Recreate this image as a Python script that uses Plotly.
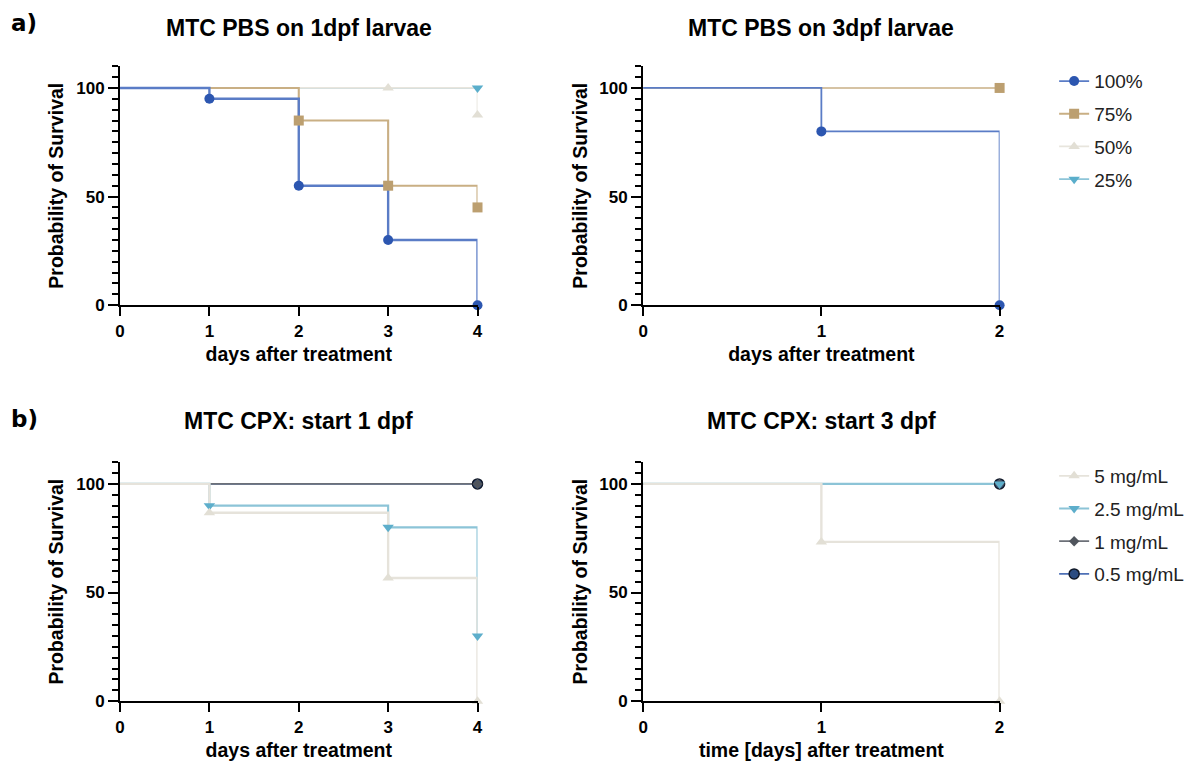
import plotly.graph_objects as go

# ---------------- data ----------------
# a) MTC PBS on 1dpf larvae
a1_t_100 = [0, 1, 2, 3, 4]
a1_s_100 = [100, 95, 55, 30, 0]
a1_t_75 = [0, 2, 3, 4]
a1_s_75 = [100, 85, 55, 45]
a1_t_50 = [0, 3, 4]
a1_s_50 = [100, 100, 87.5]
a1_t_25 = [0, 4]
a1_s_25 = [100, 100]

# a) MTC PBS on 3dpf larvae
a2_t_100 = [0, 1, 2]
a2_s_100 = [100, 80, 0]
a2_t_75 = [0, 2]
a2_s_75 = [100, 100]

# b) MTC CPX: start 1 dpf
b1_t_5 = [0, 1, 3, 4]
b1_s_5 = [100, 86.7, 56.7, 0]
b1_t_25 = [0, 1, 3, 4]
b1_s_25 = [100, 90, 80, 30]
b1_t_1 = [0, 4]
b1_s_1 = [100, 100]
b1_t_05 = [0, 4]
b1_s_05 = [100, 100]

# b) MTC CPX: start 3 dpf
b2_t_5 = [0, 1, 2]
b2_s_5 = [100, 73.3, 0]
b2_t_25 = [0, 2]
b2_s_25 = [100, 100]
b2_t_1 = [0, 2]
b2_s_1 = [100, 100]
b2_t_05 = [0, 2]
b2_s_05 = [100, 100]

labels_a = ["100%", "75%", "50%", "25%"]
labels_b = ["5 mg/mL", "2.5 mg/mL", "1 mg/mL", "0.5 mg/mL"]

titles = ["MTC PBS on 1dpf larvae", "MTC PBS on 3dpf larvae",
          "MTC CPX: start 1 dpf", "MTC CPX: start 3 dpf"]
xtitles = ["days after treatment", "days after treatment",
           "days after treatment", "time [days] after treatment"]
ytitle = "Probability of Survival"

# ---------------- styles ----------------
FONT = "Liberation Sans, Arial, sans-serif"
sty = {
    "100%": dict(m="#2C56B0", l="#5A7CC6", sym="circle", ol="#2C56B0"),
    "75%": dict(m="#BC9F70", l="#C9AF84", sym="square", ol="#BC9F70"),
    "50%": dict(m="#E2DFD5", l="#E8E5DD", sym="triangle-up", ol="#E2DFD5"),
    "25%": dict(m="#5AAECB", l="#8DC5D8", sym="triangle-down", ol="#5AAECB"),
    "5 mg/mL": dict(m="#E2DFD5", l="#E6E3DB", sym="triangle-up", ol="#E2DFD5"),
    "2.5 mg/mL": dict(m="#5DAECB", l="#8CC4D7", sym="triangle-down", ol="#5DAECB"),
    "1 mg/mL": dict(m="#50555D", l="#6C7078", sym="diamond", ol="#50555D"),
    "0.5 mg/mL": dict(m="#2B4C82", l="#4E70B6", sym="circle", ol="#101828"),
}
msize = {"circle": 10, "square": 10, "triangle-up": 10, "triangle-down": 10, "diamond": 8}

fig = go.Figure()

panels = [
    ("x", "y", [("25%", a1_t_25, a1_s_25), ("50%", a1_t_50, a1_s_50),
                ("75%", a1_t_75, a1_s_75), ("100%", a1_t_100, a1_s_100)]),
    ("x2", "y2", [("75%", a2_t_75, a2_s_75), ("100%", a2_t_100, a2_s_100)]),
    ("x3", "y3", [("0.5 mg/mL", b1_t_05, b1_s_05), ("1 mg/mL", b1_t_1, b1_s_1),
                  ("2.5 mg/mL", b1_t_25, b1_s_25), ("5 mg/mL", b1_t_5, b1_s_5)]),
    ("x4", "y4", [("0.5 mg/mL", b2_t_05, b2_s_05), ("1 mg/mL", b2_t_1, b2_s_1),
                  ("2.5 mg/mL", b2_t_25, b2_s_25), ("5 mg/mL", b2_t_5, b2_s_5)]),
]

for xa, ya, series in panels:
    for k, (name, t, s) in enumerate(series):
        st = sty[name]
        fig.add_trace(go.Scatter(x=t, y=s, mode="lines",
                                 line=dict(color=st["l"], width=1.5 + 0.3 * k, shape="hv"),
                                 xaxis=xa, yaxis=ya, showlegend=False, cliponaxis=False, hoverinfo="skip"))
    for name, t, s in series:
        st = sty[name]
        fig.add_trace(go.Scatter(x=t[1:], y=s[1:], mode="markers",
                                 marker=dict(color=st["m"], symbol=st["sym"], size=msize[st["sym"]],
                                             line=dict(color=st["ol"], width=1.5 if name == "0.5 mg/mL" else 0)),
                                 xaxis=xa, yaxis=ya, showlegend=False, cliponaxis=False))

# legend-only entries
for name in labels_a:
    st = sty[name]
    fig.add_trace(go.Scatter(x=[None], y=[None], mode="lines+markers", name=name, legend="legend",
                             legendgroup=name,
                             line=dict(color=st["l"], width=1.8),
                             marker=dict(color=st["m"], symbol=st["sym"], size=msize[st["sym"]],
                                         line=dict(color=st["ol"], width=0)),
                             xaxis="x2", yaxis="y2"))
for name in labels_b:
    st = sty[name]
    fig.add_trace(go.Scatter(x=[None], y=[None], mode="lines+markers", name=name, legend="legend2",
                             legendgroup=name,
                             line=dict(color=st["l"], width=1.8),
                             marker=dict(color=st["m"], symbol=st["sym"], size=msize[st["sym"]],
                                         line=dict(color=st["ol"], width=1.5 if name == "0.5 mg/mL" else 0)),
                             xaxis="x4", yaxis="y4"))

W, H = 1195, 767
xdom = [[116 / W, 476.5 / W], [643.5 / W, 1003 / W]]
ydom = [[1 - 309.2 / H, 1 - 67.1 / H], [1 - 710.4 / H, 1 - 468.3 / H]]

tickfont = dict(family=FONT, size=17, color="black", weight="bold")
titlefont = dict(family=FONT, size=19.5, color="black", weight="bold")

layout = dict(width=W, height=H, margin=dict(l=0, r=0, t=0, b=0), hovermode=False,
              paper_bgcolor="white", plot_bgcolor="white", font=dict(family=FONT, color="black"))

for i in range(4):
    row, col = divmod(i, 2)
    sfx = "" if i == 0 else str(i + 1)
    xmax = 4 if col == 0 else 2
    layout["xaxis" + sfx] = dict(domain=xdom[col], anchor="y" + sfx, range=[0, xmax], tickmode="linear",
                                 tick0=0, dtick=1, showline=True, linecolor="black", linewidth=2,
                                 ticks="outside", ticklen=9, tickwidth=2, tickcolor="black",
                                 showgrid=False, zeroline=False, tickfont=tickfont,
                                 title=dict(text=xtitles[i], font=titlefont, standoff=8))
    layout["yaxis" + sfx] = dict(domain=ydom[row], anchor="x" + sfx, range=[0, 110], tickmode="linear",
                                 tick0=0, dtick=50, showline=True, linecolor="black", linewidth=2,
                                 ticks="outside", ticklen=10, tickwidth=2, tickcolor="black",
                                 minor=dict(dtick=5, tick0=0, ticks="outside", ticklen=6, tickwidth=1.5,
                                            tickcolor="black"),
                                 showgrid=False, zeroline=False, tickfont=tickfont,
                                 title=dict(text=ytitle, font=titlefont, standoff=7))

layout["legend"] = dict(x=1058 / W, y=1 - 63 / H, xanchor="left", yanchor="top",
                        font=dict(family=FONT, size=19, color="#222222"),
                        tracegroupgap=5, bgcolor="rgba(0,0,0,0)")
layout["legend2"] = dict(x=1058 / W, y=1 - 463 / H, xanchor="left", yanchor="top",
                         font=dict(family=FONT, size=19, color="#222222"),
                         tracegroupgap=5, bgcolor="rgba(0,0,0,0)")

fig.update_layout(**layout)

title_y = [1 - 28 / H, 1 - 28 / H, 1 - 426.7 / H, 1 - 426.7 / H]
for i in range(4):
    row, col = divmod(i, 2)
    fig.add_annotation(text=titles[i], x=(xdom[col][0] + xdom[col][1]) / 2, y=title_y[i],
                       xref="paper", yref="paper", xanchor="center", yanchor="middle", showarrow=False,
                       font=dict(family=FONT, size=23, color="black", weight="bold"))

for lab, yy in [("a)", 1 - 23.5 / H), ("b)", 1 - 424.7 / H)]:
    fig.add_annotation(text=lab, x=4 / W, y=yy, xref="paper", yref="paper", xanchor="left",
                       yanchor="middle", showarrow=False,
                       font=dict(family="DejaVu Sans, sans-serif", size=23, color="black", weight="bold"))

fig.write_html("out.html", config={"displayModeBar": False},
               post_script="document.documentElement.style.margin='0';document.documentElement.style.overflow='hidden';"
                           "document.body.style.margin='0';document.body.style.overflow='hidden';")
